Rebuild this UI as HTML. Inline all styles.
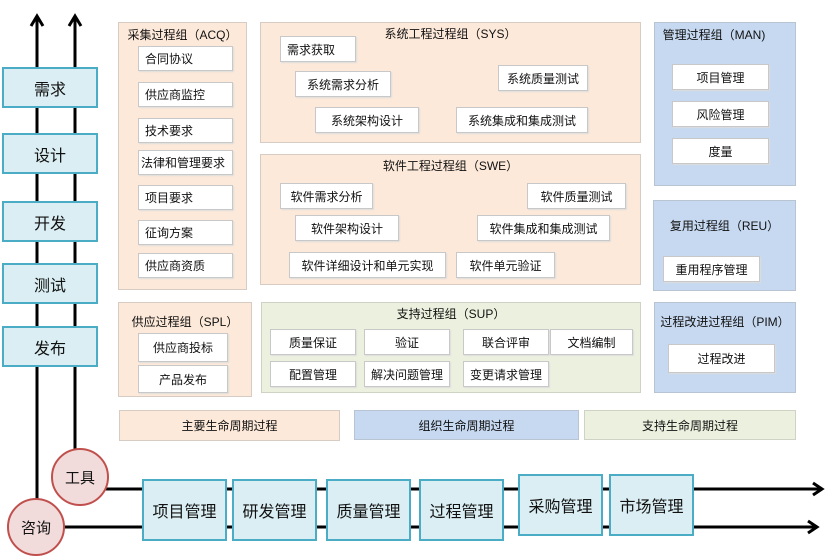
<!DOCTYPE html>
<html><head><meta charset="utf-8"><style>
body{margin:0;width:840px;height:560px;background:#fff;position:relative;overflow:hidden;font-family:"Liberation Sans","Noto Sans CJK SC",sans-serif;color:#111}
.a{position:absolute;box-sizing:border-box}
.p{background:#fde9d9;border:1px solid #d6ccc4}
.b{background:#c6d9f1;border:1px solid #b8c4d2}
.g{background:#ebf1de;border:1px solid #cfd3c6}
.w{background:#fff;border:1px solid #c8c8c8;font-size:12px;display:flex;align-items:center;padding-left:6px;box-shadow:1px 1px 1px #ddd}
.c{justify-content:center;padding-left:0}
.t{font-size:12px;text-align:center;position:absolute}
.lb{background:#daeef3;border:2px solid #4bacc6;font-size:16px;display:flex;align-items:center;justify-content:center}
.ci{background:#f2dcdb;border:2px solid #c0504d;border-radius:50%;font-size:15px;display:flex;align-items:center;justify-content:center}
</style></head><body>
<svg class="a" style="left:0;top:0" width="840" height="560">
<g stroke="#000" stroke-width="3" fill="none">
<line x1="37" y1="18" x2="37" y2="500"/>
<line x1="75" y1="18" x2="75" y2="450"/>
<polyline points="31,26 37,16 43,26"/>
<polyline points="69,26 75,16 81,26"/>
<line x1="105" y1="489" x2="820" y2="489"/>
<line x1="64" y1="527" x2="816" y2="527"/>
<polyline points="813,483 822,489 813,495"/>
<polyline points="808,521 817,527 808,533"/>
</g></svg>
<div class="a lb" style="left:2px;top:67px;width:96px;height:41px">需求</div>
<div class="a lb" style="left:2px;top:133px;width:96px;height:41px">设计</div>
<div class="a lb" style="left:2px;top:201px;width:96px;height:41px">开发</div>
<div class="a lb" style="left:2px;top:263px;width:96px;height:41px">测试</div>
<div class="a lb" style="left:2px;top:326px;width:96px;height:41px">发布</div>
<div class="a ci" style="left:51px;top:448px;width:58px;height:58px">工具</div>
<div class="a ci" style="left:7px;top:498px;width:58px;height:58px">咨询</div>

<div class="a lb" style="left:142px;top:479px;width:85px;height:62px">项目管理</div>
<div class="a lb" style="left:232px;top:479px;width:85px;height:62px">研发管理</div>
<div class="a lb" style="left:326px;top:479px;width:85px;height:62px">质量管理</div>
<div class="a lb" style="left:419px;top:479px;width:85px;height:62px">过程管理</div>
<div class="a lb" style="left:518px;top:474px;width:85px;height:62px">采购管理</div>
<div class="a lb" style="left:609px;top:474px;width:85px;height:62px">市场管理</div>

<div class="a p" style="left:118px;top:22px;width:129px;height:268px"></div>
<div class="t" style="left:118px;top:26px;width:129px">采集过程组（ACQ）</div>
<div class="a w" style="left:138px;top:46px;width:95px;height:25px">合同协议</div>
<div class="a w" style="left:138px;top:82px;width:95px;height:25px">供应商监控</div>
<div class="a w" style="left:138px;top:118px;width:95px;height:25px">技术要求</div>
<div class="a w" style="left:138px;top:150px;width:95px;height:25px;padding-left:2px">法律和管理要求</div>
<div class="a w" style="left:138px;top:185px;width:95px;height:25px">项目要求</div>
<div class="a w" style="left:138px;top:220px;width:95px;height:25px">征询方案</div>
<div class="a w" style="left:138px;top:253px;width:95px;height:25px">供应商资质</div>

<div class="a p" style="left:260px;top:22px;width:381px;height:121px"></div>
<div class="t" style="left:260px;top:25px;width:381px">系统工程过程组（SYS）</div>
<div class="a w" style="left:280px;top:36px;width:76px;height:26px">需求获取</div>
<div class="a w c" style="left:295px;top:71px;width:96px;height:26px">系统需求分析</div>
<div class="a w c" style="left:315px;top:107px;width:104px;height:26px">系统架构设计</div>
<div class="a w c" style="left:498px;top:65px;width:90px;height:26px">系统质量测试</div>
<div class="a w c" style="left:456px;top:107px;width:132px;height:26px">系统集成和集成测试</div>

<div class="a p" style="left:260px;top:154px;width:381px;height:131px"></div>
<div class="t" style="left:260px;top:157px;width:381px">软件工程过程组（SWE）</div>
<div class="a w c" style="left:280px;top:183px;width:93px;height:26px">软件需求分析</div>
<div class="a w c" style="left:295px;top:215px;width:104px;height:26px">软件架构设计</div>
<div class="a w c" style="left:289px;top:252px;width:157px;height:26px">软件详细设计和单元实现</div>
<div class="a w c" style="left:456px;top:252px;width:99px;height:26px">软件单元验证</div>
<div class="a w c" style="left:527px;top:183px;width:99px;height:26px">软件质量测试</div>
<div class="a w c" style="left:477px;top:215px;width:133px;height:26px">软件集成和集成测试</div>

<div class="a b" style="left:654px;top:22px;width:142px;height:164px"></div>
<div class="t" style="left:654px;top:26px;width:120px">管理过程组（MAN)</div>
<div class="a w c" style="left:672px;top:64px;width:97px;height:26px">项目管理</div>
<div class="a w c" style="left:672px;top:101px;width:97px;height:26px">风险管理</div>
<div class="a w c" style="left:672px;top:138px;width:97px;height:26px">度量</div>

<div class="a b" style="left:653px;top:200px;width:143px;height:91px"></div>
<div class="t" style="left:653px;top:217px;width:143px">复用过程组（REU）</div>
<div class="a w c" style="left:663px;top:256px;width:97px;height:26px">重用程序管理</div>

<div class="a p" style="left:118px;top:302px;width:134px;height:95px"></div>
<div class="t" style="left:118px;top:313px;width:134px">供应过程组（SPL）</div>
<div class="a w c" style="left:138px;top:333px;width:90px;height:29px">供应商投标</div>
<div class="a w c" style="left:138px;top:365px;width:90px;height:28px">产品发布</div>

<div class="a g" style="left:261px;top:302px;width:380px;height:91px"></div>
<div class="t" style="left:261px;top:305px;width:380px">支持过程组（SUP）</div>
<div class="a w c" style="left:270px;top:329px;width:86px;height:26px">质量保证</div>
<div class="a w c" style="left:364px;top:329px;width:86px;height:26px">验证</div>
<div class="a w c" style="left:463px;top:329px;width:86px;height:26px">联合评审</div>
<div class="a w c" style="left:550px;top:329px;width:83px;height:26px">文档编制</div>
<div class="a w c" style="left:270px;top:361px;width:86px;height:26px">配置管理</div>
<div class="a w c" style="left:364px;top:361px;width:86px;height:26px">解决问题管理</div>
<div class="a w c" style="left:463px;top:361px;width:86px;height:26px">变更请求管理</div>

<div class="a b" style="left:654px;top:302px;width:142px;height:91px"></div>
<div class="t" style="left:654px;top:313px;width:142px">过程改进过程组（PIM）</div>
<div class="a w c" style="left:668px;top:344px;width:107px;height:29px">过程改进</div>

<div class="a p" style="left:119px;top:410px;width:221px;height:31px;font-size:12px;display:flex;align-items:center;justify-content:center">主要生命周期过程</div>
<div class="a b" style="left:354px;top:410px;width:225px;height:30px;font-size:12px;display:flex;align-items:center;justify-content:center">组织生命周期过程</div>
<div class="a g" style="left:584px;top:410px;width:212px;height:30px;font-size:12px;display:flex;align-items:center;justify-content:center">支持生命周期过程</div>
</body></html>
